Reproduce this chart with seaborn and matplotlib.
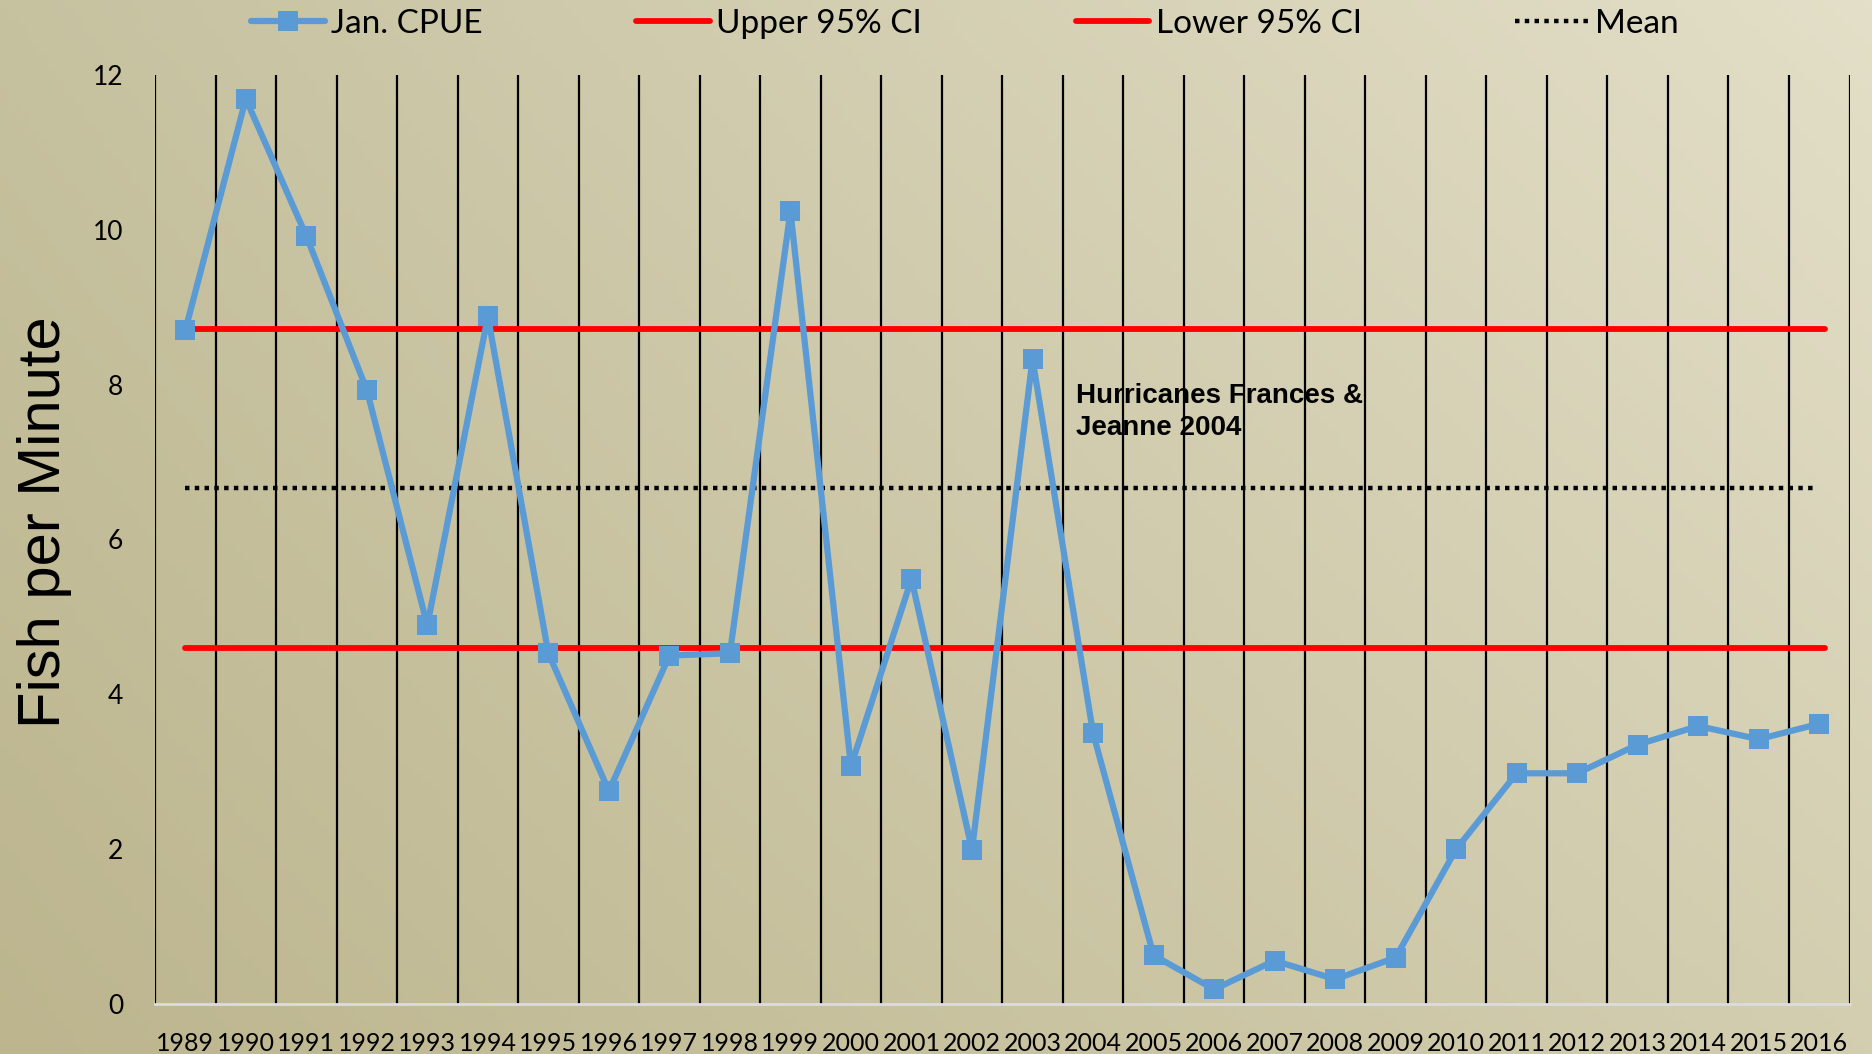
import numpy as np
import pandas as pd
import matplotlib
matplotlib.use('Agg')
import matplotlib.pyplot as plt
import seaborn as sns

# data
years = [str(y) for y in range(1989, 2017)]
cpue = [8.70, 11.69, 9.92, 7.93, 4.89, 8.88, 4.53, 2.75, 4.50, 4.53,
        10.24, 3.07, 5.49, 1.99, 8.33, 3.50, 0.63, 0.19, 0.56, 0.32,
        0.60, 2.00, 2.98, 2.98, 3.35, 3.59, 3.42, 3.62]
upper_ci = 8.72
lower_ci = 4.60
mean_val = 6.66
note = "Hurricanes Frances &\nJeanne 2004"

sns.set_style('white')
plt.rcParams['font.family'] = ['Lato', 'DejaVu Sans']
plt.rcParams.update({'text.color': 'black', 'xtick.color': 'black',
                     'ytick.color': 'black', 'axes.labelcolor': 'black'})

df = pd.DataFrame({'pos': np.arange(len(years)), 'year': years, 'cpue': cpue})

fig = plt.figure(figsize=(18.72, 10.54), dpi=100)

# textured tan background, darker bottom-left, lighter top-right
bg = fig.add_axes([0, 0, 1, 1], zorder=-10)
gx, gy = np.meshgrid(np.linspace(0, 1, 200), np.linspace(0, 1, 120))
c_bl = np.array([188, 181, 142]) / 255
c_br = np.array([211, 206, 176]) / 255
c_tl = np.array([198, 193, 159]) / 255
c_tr = np.array([227, 223, 200]) / 255
img = ((1 - gx)[..., None] * (1 - gy)[..., None] * c_tl + gx[..., None] * (1 - gy)[..., None] * c_tr
       + (1 - gx)[..., None] * gy[..., None] * c_bl + gx[..., None] * gy[..., None] * c_br)
bg.imshow(img, aspect='auto', extent=[0, 1, 0, 1])
bg.axis('off')

ax = fig.add_axes([0.0828, 0.0474, 0.988 - 0.0828, 0.929 - 0.0474])
ax.patch.set_alpha(0)

# vertical category separators
ax.vlines(np.arange(-0.5, len(years) + 0.5, 1), 0, 12, color='black', lw=1.6, zorder=1)

ax.plot([0, len(years) - 0.9], [upper_ci, upper_ci], color='#ff0000', lw=4.2, label='Upper 95% CI', zorder=2)
ax.plot([0, len(years) - 0.9], [lower_ci, lower_ci], color='#ff0000', lw=4.2, label='Lower 95% CI', zorder=2)
ax.plot([0, len(years) - 1.05], [mean_val, mean_val], color='black', lw=3.2, dashes=(1, 1.2),
        label='Mean', zorder=2)

sns.lineplot(data=df, x='pos', y='cpue', ax=ax, color='#5b9bd5', lw=4.5, marker='s',
             markersize=14, markeredgewidth=0, label='Jan. CPUE', zorder=3)

ax.text(14.72, 8.02, note, fontsize=20, fontweight='bold', family='Liberation Sans',
        color='black', ha='left', va='top', linespacing=1.32, zorder=4)

ax.set_xlim(-0.5, len(years) - 0.5)
ax.set_ylim(0, 12)
ax.set_xticks(df['pos'])
ax.set_xticklabels(years, fontsize=18)
ax.set_yticks(range(0, 13, 2))
ax.tick_params(axis='y', labelsize=19, length=0, pad=23)
ax.tick_params(axis='x', length=0, pad=20)
ax.set_xlabel('')
ax.set_ylabel('Fish per Minute', fontsize=43, family='Liberation Sans')
ax.yaxis.set_label_coords(-0.049, 0.519)
for s in ['top', 'right', 'left']:
    ax.spines[s].set_visible(False)
ax.spines['bottom'].set_color('#dcdcdc')
ax.spines['bottom'].set_linewidth(2)

handles, labels = ax.get_legend_handles_labels()
order = [labels.index(l) for l in ['Jan. CPUE', 'Upper 95% CI', 'Lower 95% CI', 'Mean']]
ax.legend().remove()
fig.legend([handles[i] for i in order], [labels[i] for i in order], loc='center',
           bbox_to_anchor=(965 / 1872, 1 - 24 / 1054), ncol=4, frameon=False, fontsize=24,
           handlelength=2.2, handletextpad=0.2, columnspacing=4.6)

fig.savefig('out.png', dpi=100)
